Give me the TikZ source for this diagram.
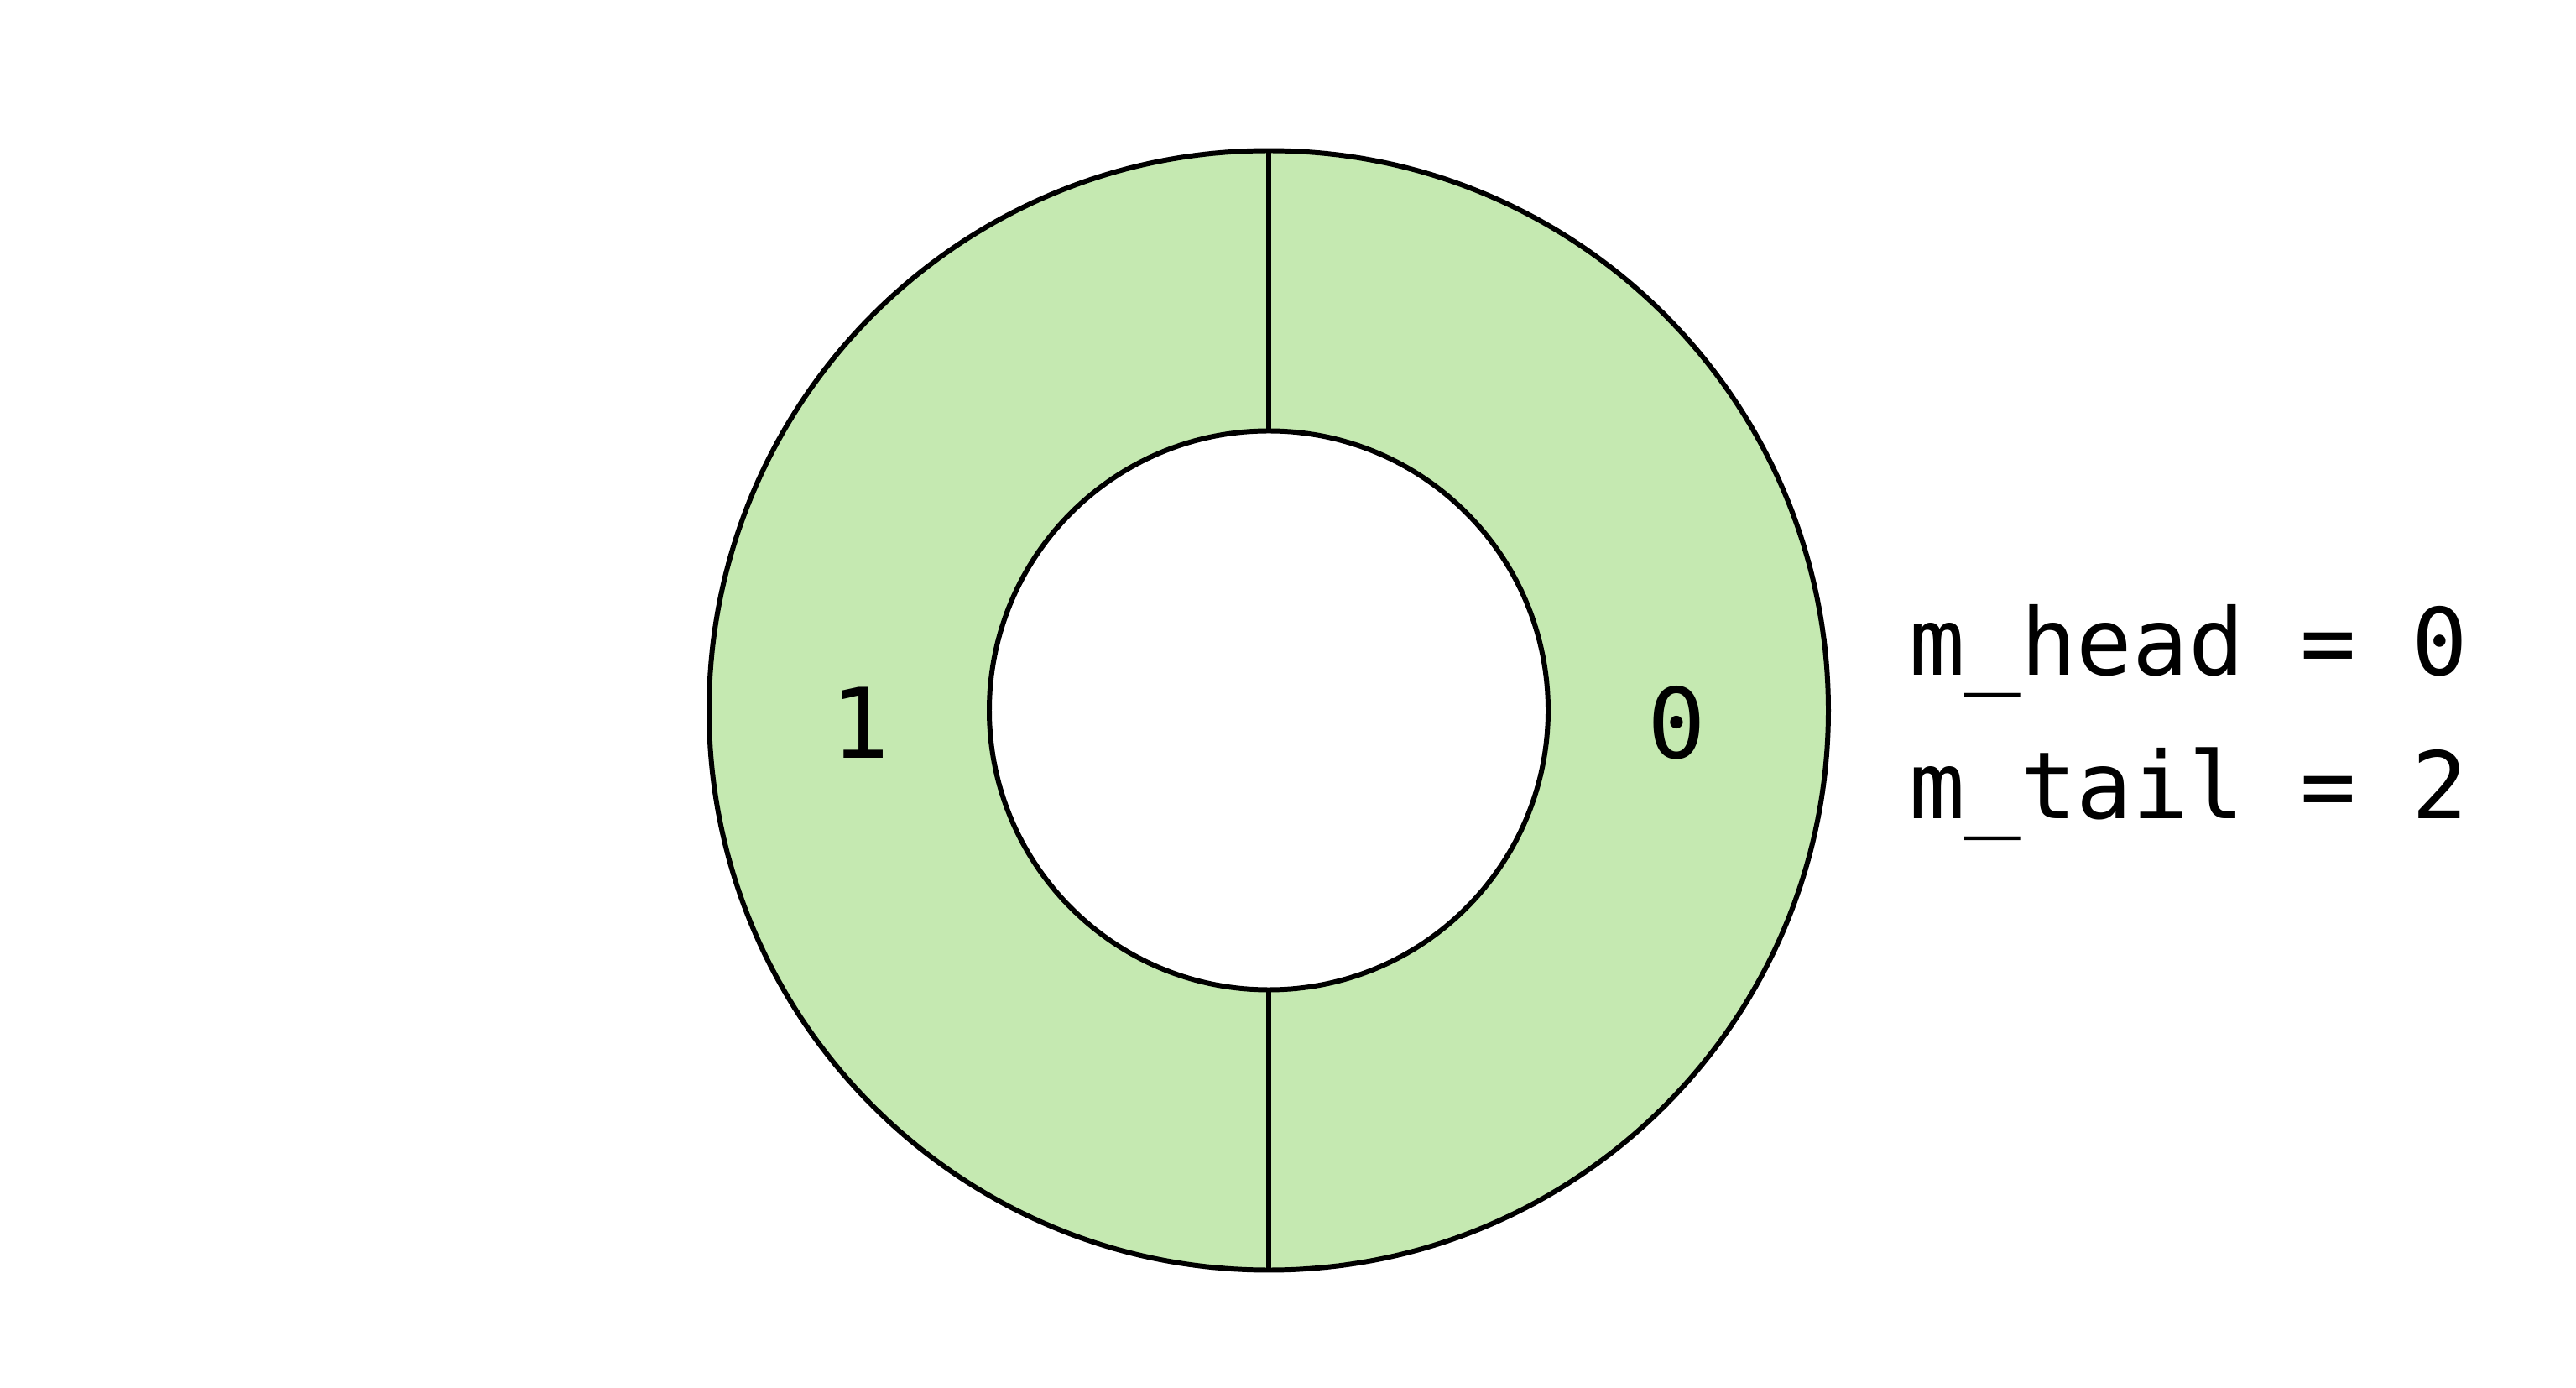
\documentclass[tikz,border=0pt]{standalone}
\usepackage{fontspec}
\usepackage{tikz}
\usetikzlibrary{positioning,calc}
\newfontfamily\slotfont{DejaVu Sans Mono}
\definecolor{rbgreen}{RGB}{197,233,177}
\tikzstyle{slot} = [inner sep=0pt,anchor=base,font=\slotfont\fontsize{33}{40}\selectfont]
\tikzstyle{var} = [inner sep=0pt,anchor=base west,font=\slotfont\fontsize{31.5}{40}\selectfont]

\begin{document}
\begin{tikzpicture}[line width=1.7pt]
\useasboundingbox (0,0) rectangle (30.70,16.53);
% ring buffer with two slots
\coordinate (c) at (15.12,8.065);
\fill[rbgreen, even odd rule] (c) circle (6.67) (c) circle (3.33);
\draw (c) circle (6.67);
\draw (c) circle (3.33);

% slot borders
\coordinate (top in) at ($(c)+(0,3.33)$);
\coordinate (top out) at ($(c)+(0,6.67)$);
\coordinate (bot in) at ($(c)+(0,-3.33)$);
\coordinate (bot out) at ($(c)+(0,-6.67)$);
\draw (top in) -- (top out);
\draw (bot in) -- (bot out);

% slot indices
\node[slot] (slot1) at (10.25,7.49) {1};
\node[slot] (slot0) at (19.98,7.49) {0};

% head and tail
\node[var] (head) at (22.72,8.48) {m\_head = 0};
\node[var] (tail) at (22.72,6.77) {m\_tail = 2};
\end{tikzpicture}
\end{document}
